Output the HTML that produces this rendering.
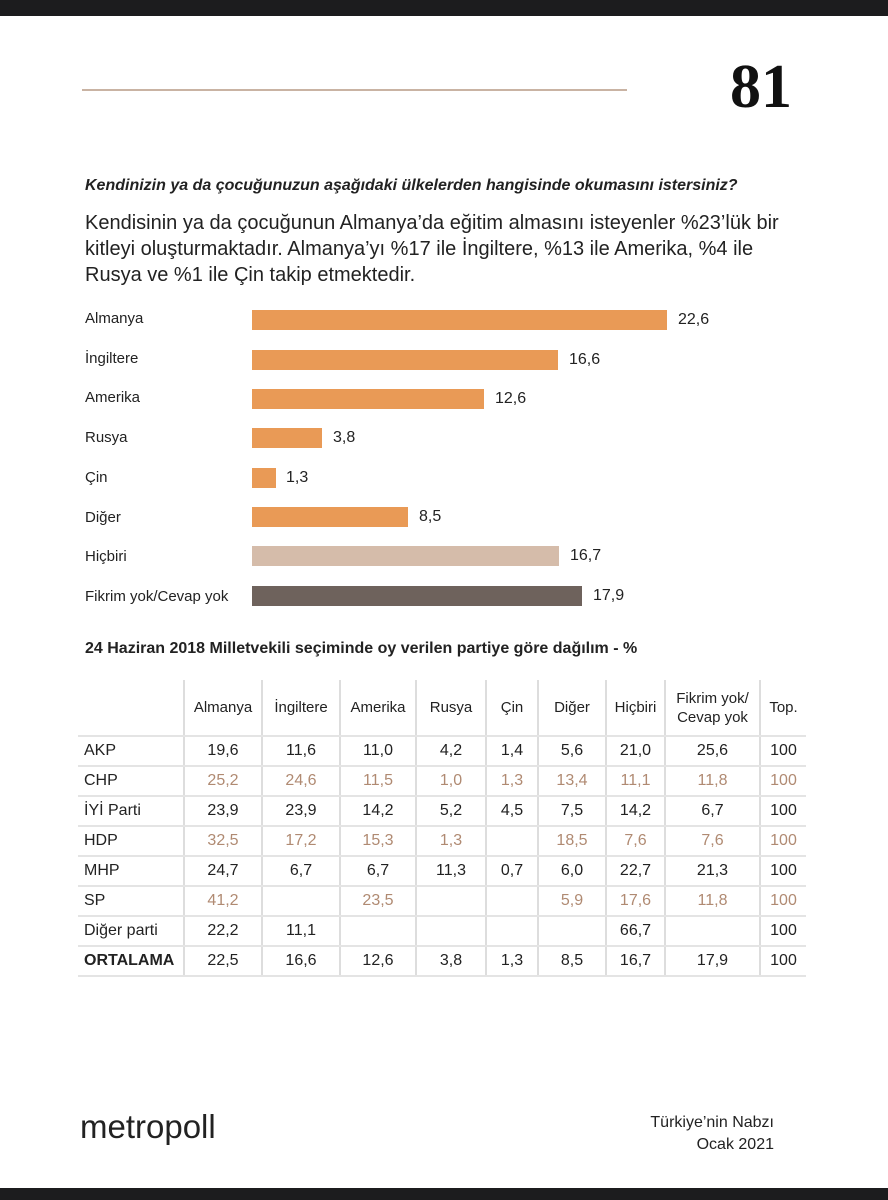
<!DOCTYPE html>
<html><head><meta charset="utf-8"><style>
body{margin:0;width:888px;height:1200px;background:#fff;position:relative;overflow:hidden;font-family:"Liberation Sans",sans-serif;color:#222}
.a{position:absolute;white-space:nowrap}
.bar{position:absolute;left:252px;height:20px;background:#e99a56}
.lab{position:absolute;left:85px;font-size:15px}
.val{position:absolute;font-size:16px}
table{position:absolute;left:78px;top:680px;border-collapse:collapse;font-size:16px}
td{height:28px;padding:0;text-align:center;border-right:2px solid #ddd;border-bottom:2px solid #e4e4e4}
td:last-child{border-right:none}
td.l{text-align:left;padding-left:6px}
tr.h td{height:55px;font-size:15px;line-height:19px}
tr.o td{color:#b08a72}
</style></head><body>
<div class="a" style="left:0;top:0;width:888px;height:16px;background:#1c1c1e"></div>
<div class="a" style="left:0;top:1188px;width:888px;height:12px;background:#1c1c1e"></div>
<div class="a" style="left:82px;top:89px;width:545px;height:2px;background:#c9b3a3"></div>
<div class="a" style="left:730px;top:52px;font-family:'Liberation Serif',serif;font-weight:bold;font-size:62px;line-height:70px;color:#111">81</div>
<div class="a" style="left:85px;top:177px;font-size:16px;font-style:italic;font-weight:bold;color:#222">Kendinizin ya da çocuğunuzun aşağıdaki ülkelerden hangisinde okumasını istersiniz?</div>
<div class="a" style="left:85px;top:210px;font-size:20px;line-height:26px;color:#222">Kendisinin ya da çocuğunun Almanya’da eğitim almasını isteyenler %23’lük bir<br>kitleyi oluşturmaktadır. Almanya’yı %17 ile İngiltere, %13 ile Amerika, %4 ile<br>Rusya ve %1 ile Çin takip etmektedir.</div>

<div class="lab" style="top:310px">Almanya</div><div class="bar" style="top:310px;width:415px"></div><div class="val" style="top:311px;left:678px">22,6</div>
<div class="lab" style="top:350px">İngiltere</div><div class="bar" style="top:350px;width:306px"></div><div class="val" style="top:351px;left:569px">16,6</div>
<div class="lab" style="top:389px">Amerika</div><div class="bar" style="top:389px;width:232px"></div><div class="val" style="top:390px;left:495px">12,6</div>
<div class="lab" style="top:429px">Rusya</div><div class="bar" style="top:428px;width:70px"></div><div class="val" style="top:429px;left:333px">3,8</div>
<div class="lab" style="top:469px">Çin</div><div class="bar" style="top:468px;width:24px"></div><div class="val" style="top:469px;left:286px">1,3</div>
<div class="lab" style="top:509px">Diğer</div><div class="bar" style="top:507px;width:156px"></div><div class="val" style="top:508px;left:419px">8,5</div>
<div class="lab" style="top:548px">Hiçbiri</div><div class="bar" style="top:546px;width:307px;background:#d5bcaa"></div><div class="val" style="top:547px;left:570px">16,7</div>
<div class="lab" style="top:588px">Fikrim yok/Cevap yok</div><div class="bar" style="top:586px;width:330px;background:#6e625c"></div><div class="val" style="top:587px;left:593px">17,9</div>

<div class="a" style="left:85px;top:640px;font-size:16px;font-weight:bold">24 Haziran 2018 Milletvekili seçiminde oy verilen partiye göre dağılım - %</div>

<table>
<colgroup><col style="width:106px"><col style="width:78px"><col style="width:78px"><col style="width:76px"><col style="width:70px"><col style="width:52px"><col style="width:68px"><col style="width:59px"><col style="width:95px"><col style="width:46px"></colgroup>
<tr class="h"><td></td><td>Almanya</td><td>İngiltere</td><td>Amerika</td><td>Rusya</td><td>Çin</td><td>Diğer</td><td>Hiçbiri</td><td>Fikrim yok/<br>Cevap yok</td><td>Top.</td></tr>
<tr><td class="l">AKP</td><td>19,6</td><td>11,6</td><td>11,0</td><td>4,2</td><td>1,4</td><td>5,6</td><td>21,0</td><td>25,6</td><td>100</td></tr>
<tr class="o"><td class="l" style="color:#222">CHP</td><td>25,2</td><td>24,6</td><td>11,5</td><td>1,0</td><td>1,3</td><td>13,4</td><td>11,1</td><td>11,8</td><td>100</td></tr>
<tr><td class="l">İYİ Parti</td><td>23,9</td><td>23,9</td><td>14,2</td><td>5,2</td><td>4,5</td><td>7,5</td><td>14,2</td><td>6,7</td><td>100</td></tr>
<tr class="o"><td class="l" style="color:#222">HDP</td><td>32,5</td><td>17,2</td><td>15,3</td><td>1,3</td><td></td><td>18,5</td><td>7,6</td><td>7,6</td><td>100</td></tr>
<tr><td class="l">MHP</td><td>24,7</td><td>6,7</td><td>6,7</td><td>11,3</td><td>0,7</td><td>6,0</td><td>22,7</td><td>21,3</td><td>100</td></tr>
<tr class="o"><td class="l" style="color:#222">SP</td><td>41,2</td><td></td><td>23,5</td><td></td><td></td><td>5,9</td><td>17,6</td><td>11,8</td><td>100</td></tr>
<tr><td class="l">Diğer parti</td><td>22,2</td><td>11,1</td><td></td><td></td><td></td><td></td><td>66,7</td><td></td><td>100</td></tr>
<tr><td class="l" style="font-weight:bold">ORTALAMA</td><td>22,5</td><td>16,6</td><td>12,6</td><td>3,8</td><td>1,3</td><td>8,5</td><td>16,7</td><td>17,9</td><td>100</td></tr>
</table>

<div class="a" style="left:80px;top:1108px;font-size:33px;color:#222">metropoll</div>
<div class="a" style="left:600px;top:1112px;width:174px;text-align:right;font-size:16px;line-height:22px">Türkiye’nin Nabzı<br>Ocak 2021</div>
</body></html>
